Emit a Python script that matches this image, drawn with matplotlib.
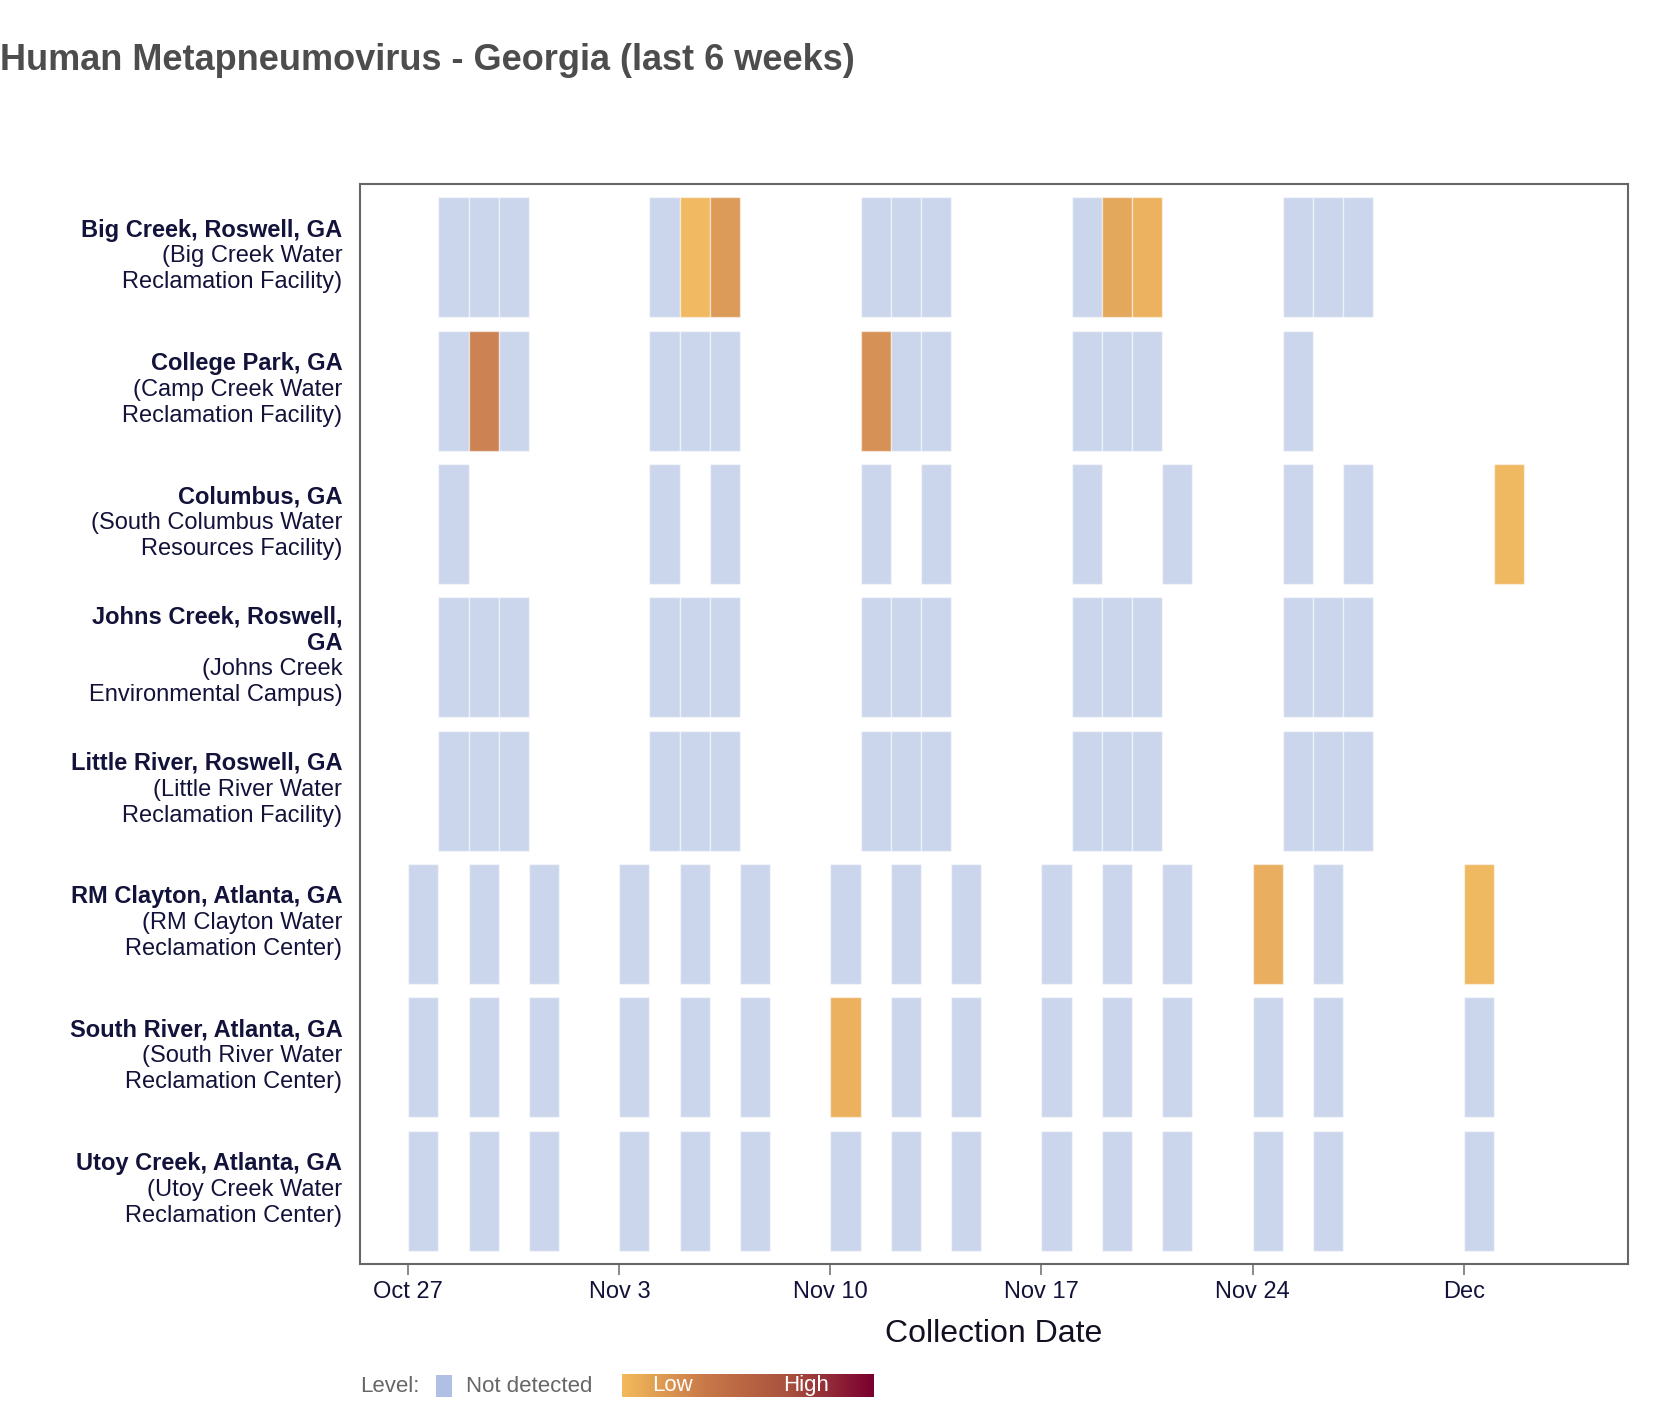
import datetime as dt
import numpy as np
import matplotlib
matplotlib.use('Agg')
import matplotlib.pyplot as plt
import matplotlib.dates as mdates
from matplotlib.colors import LinearSegmentedColormap, to_rgba
from matplotlib.patches import Rectangle

plt.rcParams['font.family'] = ['Liberation Sans', 'DejaVu Sans']

# =============================================================================
# Data
# =============================================================================
YEAR = 2024
SITES_BOLD = [
    ['Big Creek, Roswell, GA'],
    ['College Park, GA'],
    ['Columbus, GA'],
    ['Johns Creek, Roswell,', 'GA'],
    ['Little River, Roswell, GA'],
    ['RM Clayton, Atlanta, GA'],
    ['South River, Atlanta, GA'],
    ['Utoy Creek, Atlanta, GA'],
]
SITES_SUB = [
    ['(Big Creek Water', 'Reclamation Facility)'],
    ['(Camp Creek Water', 'Reclamation Facility)'],
    ['(South Columbus Water', 'Resources Facility)'],
    ['(Johns Creek', 'Environmental Campus)'],
    ['(Little River Water', 'Reclamation Facility)'],
    ['(RM Clayton Water', 'Reclamation Center)'],
    ['(South River Water', 'Reclamation Center)'],
    ['(Utoy Creek Water', 'Reclamation Center)'],
]

# sample dates per site as (month, day); level None = not detected, else 0..1
ROSWELL_DATES = [(10, 28), (10, 29), (10, 30), (11, 4), (11, 5), (11, 6),
                 (11, 11), (11, 12), (11, 13), (11, 18), (11, 19), (11, 20),
                 (11, 25), (11, 26), (11, 27)]
ATLANTA_DATES = [(10, 27), (10, 29), (10, 31), (11, 3), (11, 5), (11, 7),
                 (11, 10), (11, 12), (11, 14), (11, 17), (11, 19), (11, 21),
                 (11, 24), (11, 26), (12, 1)]

big_creek_dates = ROSWELL_DATES
big_creek_levels = [None, None, None, None, 0.02, 0.18, None, None, None,
                    None, 0.12, 0.06, None, None, None]

college_park_dates = [(10, 28), (10, 29), (10, 30), (11, 4), (11, 5), (11, 6),
                      (11, 11), (11, 12), (11, 13), (11, 18), (11, 19),
                      (11, 20), (11, 25)]
college_park_levels = [None, 0.32, None, None, None, None, 0.24, None, None,
                       None, None, None, None]

columbus_dates = [(10, 28), (11, 4), (11, 6), (11, 11), (11, 13), (11, 18),
                  (11, 21), (11, 25), (11, 27), (12, 2)]
columbus_levels = [None] * 9 + [0.03]

johns_creek_dates = ROSWELL_DATES
johns_creek_levels = [None] * 15

little_river_dates = ROSWELL_DATES
little_river_levels = [None] * 15

rm_clayton_dates = ATLANTA_DATES
rm_clayton_levels = [None] * 12 + [0.08, None, 0.03]

south_river_dates = ATLANTA_DATES
south_river_levels = [None] * 6 + [0.07] + [None] * 8

utoy_creek_dates = ATLANTA_DATES
utoy_creek_levels = [None] * 15

SITE_DATES = [big_creek_dates, college_park_dates, columbus_dates,
              johns_creek_dates, little_river_dates, rm_clayton_dates,
              south_river_dates, utoy_creek_dates]
SITE_LEVELS = [big_creek_levels, college_park_levels, columbus_levels,
               johns_creek_levels, little_river_levels, rm_clayton_levels,
               south_river_levels, utoy_creek_levels]

TICK_DATES = [(10, 27), (11, 3), (11, 10), (11, 17), (11, 24), (12, 1)]
TICK_LABELS = ['Oct 27', 'Nov 3', 'Nov 10', 'Nov 17', 'Nov 24', 'Dec']

# =============================================================================
# Styling
# =============================================================================
NAVY = '#12123a'
ND_COLOR = '#b0c0e4'
cmap = LinearSegmentedColormap.from_list(
    'level', ['#f2ba5a', '#c87848', '#a8503e', '#7a0030'])

W, H = 1668, 1414


def to_num(md):
    return mdates.date2num(dt.date(YEAR, md[0], md[1]))


fig = plt.figure(figsize=(W / 100, H / 100), dpi=100)
ax = fig.add_axes([360 / W, 1 - 1264 / H, 1268 / W, 1080 / H])

bar_h = 0.9
for row, (dates, levels) in enumerate(zip(SITE_DATES, SITE_LEVELS)):
    for md, lev in zip(dates, levels):
        if lev is None:
            col = to_rgba(ND_COLOR, 0.65)
        else:
            col = to_rgba(cmap(lev), 0.95)
        ax.bar(to_num(md), bar_h, width=1.0, bottom=row - bar_h / 2,
               align='edge', color=col, edgecolor=(1, 1, 1, 0.5),
               linewidth=1.0)

ax.set_xlim(to_num((10, 27)) - 1.6, to_num((12, 1)) + 5.45)
ax.set_ylim(len(SITE_DATES) - 0.45, -0.55)

ax.set_xticks([to_num(d) for d in TICK_DATES])
ax.set_xticklabels(TICK_LABELS, fontsize=17, color=NAVY)
ax.tick_params(axis='x', length=8, width=1.2, color='#777777', pad=4)
ax.set_yticks([])
for sp in ax.spines.values():
    sp.set_color('#666666')
    sp.set_linewidth(1.5)

ax.set_xlabel('Collection Date', fontsize=23, color='#111122', labelpad=12)

# site labels: bold first line(s), regular sub lines
line_step = 0.196
ytr = ax.get_yaxis_transform()
for row, (bold, sub) in enumerate(zip(SITES_BOLD, SITES_SUB)):
    lines = [(t, 'bold') for t in bold] + [(t, 'normal') for t in sub]
    n = len(lines)
    for k, (txt, wt) in enumerate(lines):
        y = row + (k - (n - 1) / 2) * line_step - 0.008
        ax.text(-0.014, y, txt, transform=ytr, ha='right', va='center',
                fontsize=17, fontweight=wt, color=NAVY)

fig.text(0.0, 1 - 60 / H, 'Human Metapneumovirus - Georgia (last 6 weeks)',
         fontsize=26, fontweight='bold', color='#4d4d4d',
         ha='left', va='center')

# legend
leg_y = 1 - 1386 / H
fig.text(360 / W, leg_y, 'Level:', fontsize=16, color='#666666',
         ha='left', va='center')
fig.patches.append(Rectangle((436 / W, 1 - 1397 / H), 16 / W, 22 / H,
                             transform=fig.transFigure,
                             facecolor=ND_COLOR, edgecolor='none'))
fig.text(466 / W, leg_y, 'Not detected', fontsize=16, color='#666666',
         ha='left', va='center')
cax = fig.add_axes([622 / W, 1 - 1397 / H, 251 / W, 23 / H])
cax.imshow(np.linspace(0, 1, 256)[None, :], aspect='auto', cmap=cmap,
           extent=(0, 1, 0, 1))
cax.set_axis_off()
cax.text(0.12, 0.5, 'Low', color='white', fontsize=16, ha='left',
         va='center', transform=cax.transAxes)
cax.text(0.64, 0.5, 'High', color='white', fontsize=16, ha='left',
         va='center', transform=cax.transAxes)

fig.savefig('out.png', dpi=100)
